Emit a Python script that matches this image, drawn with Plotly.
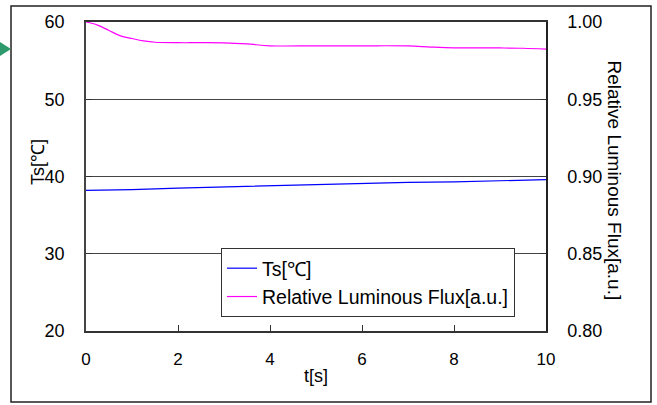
import plotly.graph_objects as go

# Data
t_ts = [0, 1, 2, 3, 4, 5, 6, 7, 8, 9, 10]
ts_vals = [38.2, 38.3, 38.5, 38.65, 38.8, 38.95, 39.1, 39.25, 39.3, 39.45, 39.6]

t_flux = [0, 0.25, 0.5, 0.75, 1, 1.25, 1.5, 2, 2.5, 3, 3.5, 4, 5, 6, 7, 7.5, 8, 9, 9.5, 10]
flux_vals = [1.000, 0.998, 0.9945, 0.991, 0.9893, 0.9878, 0.9869, 0.9866, 0.9866, 0.9865,
             0.9858, 0.9846, 0.9846, 0.9846, 0.9845, 0.9838, 0.9833, 0.9832, 0.9830, 0.9824]

x_ticks = [0, 2, 4, 6, 8, 10]
y_ticks = [20, 30, 40, 50, 60]
y2_ticks = [0.80, 0.85, 0.90, 0.95, 1.00]

W, H = 657, 405
L, R, T, B = 86, 111, 22, 74
pw, ph = W - L - R, H - T - B

def px(x):
    return (x - L) / pw

def py(y):
    return (H - B - y) / ph

FONT = "Liberation Sans, Arial, sans-serif"

fig = go.Figure()
fig.add_trace(go.Scatter(x=t_ts, y=ts_vals, mode="lines", name="Ts[℃]",
                         line=dict(color="#0000FF", width=1.2)))
fig.add_trace(go.Scatter(x=t_flux, y=flux_vals, mode="lines", name="Relative Luminous Flux[a.u.]",
                         line=dict(color="#FF00FF", width=1.2, shape="spline"), yaxis="y2"))

fig.update_layout(
    width=W, height=H,
    margin=dict(l=L, r=R, t=T, b=B, autoexpand=False),
    paper_bgcolor="white", plot_bgcolor="white",
    font=dict(family=FONT, size=17, color="black"),
    showlegend=True,
    legend=dict(x=px(221), y=py(248), xanchor="left", yanchor="top",
                bgcolor="white", bordercolor="#333333", borderwidth=1,
                font=dict(size=19.5, family=FONT), tracegroupgap=0),
    xaxis=dict(range=[0, 10], tickvals=x_ticks, ticks="inside", ticklen=6,
               tickcolor="#333333", showline=True, linecolor="#333333", linewidth=1.5,
               mirror=True, showgrid=False, zeroline=False, automargin=False,
               tickfont=dict(size=17), ticklabelstandoff=12),
    yaxis=dict(range=[20, 60], tickvals=y_ticks, ticks="inside", ticklen=6,
               tickcolor="#333333", showline=True, linecolor="#444444", linewidth=1.5,
               showgrid=True, gridcolor="#444444", gridwidth=1.2, zeroline=False,
               automargin=False, tickfont=dict(size=18), ticklabelstandoff=16),
    yaxis2=dict(range=[0.80, 1.00], tickvals=y2_ticks, tickformat=".2f",
                overlaying="y", side="right", ticks="inside", ticklen=6,
                tickcolor="#333333", showline=True, linecolor="#222222", linewidth=1.5,
                showgrid=False, zeroline=False, automargin=False,
                tickfont=dict(size=18), ticklabelstandoff=16),
)

# Axis titles
fig.add_annotation(text="t[s]", x=px(316), y=py(388), xref="paper", yref="paper",
                   showarrow=False, font=dict(size=18))
fig.add_annotation(text="Ts[℃]", x=px(26), y=py(162), xref="paper", yref="paper",
                   showarrow=False, textangle=-90, font=dict(size=18))
fig.add_annotation(text="Relative Luminous Flux[a.u.]", x=px(626), y=py(180), xref="paper", yref="paper",
                   showarrow=False, textangle=90, font=dict(size=19))

# Outer border
fig.add_shape(type="rect", xref="paper", yref="paper",
              x0=px(11), x1=px(651), y0=py(402), y1=py(6),
              line=dict(color="#222222", width=1.5), fillcolor="rgba(0,0,0,0)", layer="below")

# Green arrow fragment at left edge
fig.add_shape(type="path", xref="paper", yref="paper",
              path=f"M {px(0)},{py(42)} L {px(11)},{py(49)} L {px(0)},{py(56)} Z",
              fillcolor="#2E9A6C", line=dict(width=0))

fig.write_html("out.html", config={"displayModeBar": False},
               post_script="document.body.style.margin='0';")
